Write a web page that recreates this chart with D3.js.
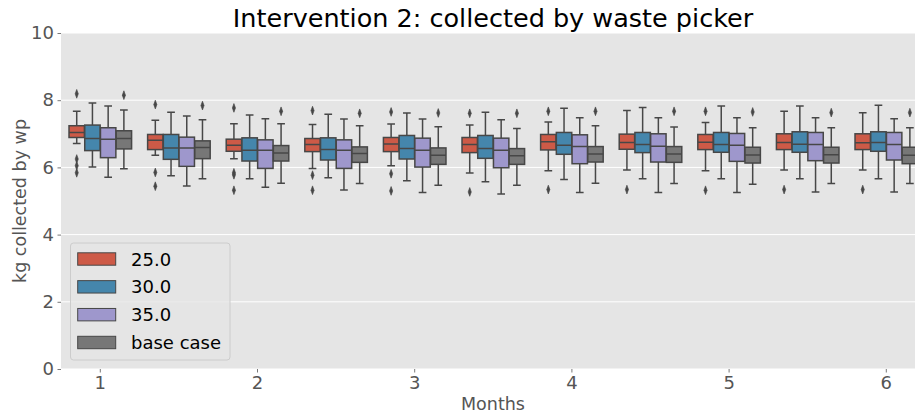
<!DOCTYPE html>
<html>
<head>
<meta charset="utf-8">
<script src="https://cdn.jsdelivr.net/npm/d3@7"></script>
<style>
  body { margin: 0; background: #fff; }
  svg { display: block; font-family: "DejaVu Sans", sans-serif; }
</style>
</head>
<body>
<svg id="chart" width="915" height="416"></svg>
<script>
// ---------- data ----------
const months = ["1","1.5","2","2.5","3","3.5","4","4.5","5","5.5","6"];
const monthTicks = ["1","2","3","4","5","6"];
const hues = ["25.0","30.0","35.0","base case"];
const yTicks = [0,2,4,6,8,10];

// each entry: [lower whisker, Q1, median, Q3, upper whisker]
const stats25 = [
  [6.71,6.89,7.04,7.24,7.67],[6.36,6.53,6.81,6.98,7.40],[6.26,6.48,6.66,6.84,7.30],
  [5.97,6.47,6.68,6.86,7.28],[6.05,6.47,6.70,6.89,7.29],[5.83,6.44,6.68,6.89,7.26],
  [5.90,6.52,6.76,6.98,7.35],[5.92,6.54,6.74,6.99,7.69],[5.90,6.53,6.75,6.98,7.34],
  [5.92,6.53,6.74,7.00,7.67],[5.92,6.53,6.73,7.00,7.63]
];
const stats30 = [
  [6.01,6.50,6.86,7.26,7.92],[5.75,6.24,6.58,6.98,7.64],[5.66,6.19,6.51,6.88,7.56],
  [5.69,6.22,6.53,6.88,7.58],[5.60,6.25,6.56,6.95,7.62],[5.57,6.27,6.56,6.95,7.64],
  [5.64,6.39,6.66,7.04,7.76],[5.66,6.44,6.68,7.04,7.78],[5.66,6.45,6.68,7.04,7.83],
  [5.66,6.45,6.69,7.06,7.83],[5.66,6.48,6.74,7.06,7.85]
];
const stats35 = [
  [5.71,6.29,6.84,7.18,7.83],[5.45,6.03,6.58,6.90,7.53],[5.41,5.97,6.51,6.82,7.45],
  [5.33,5.97,6.51,6.82,7.44],[5.25,6.01,6.51,6.87,7.44],[5.21,5.99,6.51,6.87,7.42],
  [5.25,6.11,6.62,6.97,7.48],[5.25,6.16,6.63,7.00,7.48],[5.25,6.18,6.66,7.01,7.48],
  [5.27,6.20,6.68,7.04,7.48],[5.27,6.22,6.68,7.04,7.45]
];
const statsBase = [
  [5.96,6.55,6.86,7.09,7.71],[5.66,6.26,6.59,6.79,7.42],[5.53,6.19,6.43,6.65,7.30],
  [5.52,6.15,6.41,6.61,7.24],[5.47,6.09,6.36,6.58,7.21],[5.47,6.09,6.35,6.56,7.16],
  [5.53,6.16,6.40,6.62,7.24],[5.52,6.15,6.40,6.62,7.20],[5.50,6.13,6.37,6.60,7.18],
  [5.52,6.13,6.38,6.60,7.18],[5.52,6.11,6.36,6.60,7.18]
];
const outliers25 = [
  [8.19,6.25,6.05,5.84],[7.87,5.85,5.44],[7.77,5.84,5.78,5.32],[7.69,5.77,5.32],
  [7.65,5.81,5.30],[7.61,5.27],[7.67,5.34],[5.34],[7.67,5.32],[5.34],[5.34]
];
const outliers30 = [[],[],[],[],[],[],[],[],[],[],[]];
const outliers35 = [[],[],[],[],[],[],[],[],[],[],[]];
const outliersBase = [
  [8.15],[7.84],[7.67],[7.61],[7.62],[7.61],[7.67],[7.67],[7.65],[7.63],[7.63]
];

const colors = ["#CD5A47","#4586AC","#9E97CC","#777777"];
const edge = "#474747";

// ---------- build ----------
const allStats = [stats25, stats30, stats35, statsBase];
const allOut = [outliers25, outliers30, outliers35, outliersBase];
const boxes = [];
const fliers = [];
hues.forEach((h, hi) => {
  months.forEach((m, mi) => {
    const s = allStats[hi][mi];
    boxes.push({month: m, hue: h, hi, lo: s[0], q1: s[1], med: s[2], q3: s[3], hiW: s[4]});
    allOut[hi][mi].forEach(v => fliers.push({month: m, hue: h, v}));
  });
});

const svg = d3.select("#chart");
const mLeft = 61, mTop = 33, mBottom = 369;
const band = 78.6;
const mRight = mLeft + band * months.length;

const x = d3.scaleBand().domain(months).range([mLeft, mRight]).paddingInner(0).paddingOuter(0);
const xh = d3.scaleBand().domain(hues).range([x.bandwidth() * 0.1, x.bandwidth() * 0.9]);
const y = d3.scaleLinear().domain([0, 10]).range([mBottom, mTop]);

svg.append("defs").append("clipPath").attr("id", "clip")
  .append("rect").attr("x", mLeft).attr("y", mTop).attr("width", mRight - mLeft).attr("height", mBottom - mTop);

// background
svg.append("rect").attr("x", mLeft).attr("y", mTop).attr("width", mRight - mLeft).attr("height", mBottom - mTop)
  .attr("fill", "#E5E5E5");

// grid
svg.append("g").selectAll("line").data(yTicks).join("line")
  .attr("x1", mLeft).attr("x2", mRight)
  .attr("y1", d => y(d)).attr("y2", d => y(d))
  .attr("stroke", "#fff").attr("stroke-width", 1);

const plot = svg.append("g").attr("clip-path", "url(#clip)");
const bw = xh.bandwidth() * 0.98;
const cx = d => x(d.month) + xh(d.hue) + xh.bandwidth() / 2;

const g = plot.selectAll("g.box").data(boxes).join("g").attr("class", "box");
// whiskers
g.append("line").attr("x1", cx).attr("x2", cx).attr("y1", d => y(d.q3)).attr("y2", d => y(d.hiW))
  .attr("stroke", edge).attr("stroke-width", 1.5);
g.append("line").attr("x1", cx).attr("x2", cx).attr("y1", d => y(d.q1)).attr("y2", d => y(d.lo))
  .attr("stroke", edge).attr("stroke-width", 1.5);
// caps
g.append("line").attr("x1", d => cx(d) - bw / 4).attr("x2", d => cx(d) + bw / 4)
  .attr("y1", d => y(d.hiW)).attr("y2", d => y(d.hiW)).attr("stroke", edge).attr("stroke-width", 1.5);
g.append("line").attr("x1", d => cx(d) - bw / 4).attr("x2", d => cx(d) + bw / 4)
  .attr("y1", d => y(d.lo)).attr("y2", d => y(d.lo)).attr("stroke", edge).attr("stroke-width", 1.5);
// box
g.append("rect").attr("x", d => cx(d) - bw / 2).attr("width", bw)
  .attr("y", d => y(d.q3)).attr("height", d => y(d.q1) - y(d.q3))
  .attr("fill", d => colors[d.hi]).attr("stroke", edge).attr("stroke-width", 1.5);
// median
g.append("line").attr("x1", d => cx(d) - bw / 2).attr("x2", d => cx(d) + bw / 2)
  .attr("y1", d => y(d.med)).attr("y2", d => y(d.med)).attr("stroke", edge).attr("stroke-width", 1.5);

// fliers (thin diamonds)
plot.selectAll("path.flier").data(fliers).join("path").attr("class", "flier")
  .attr("transform", d => `translate(${cx(d)},${y(d.v)}) scale(0.62,1)`)
  .attr("d", d3.symbol().type(d3.symbolDiamond).size(22))
  .attr("fill", edge).attr("stroke", edge).attr("stroke-width", 0.8);

// axes
const yAxis = svg.append("g").attr("transform", `translate(${mLeft},0)`)
  .call(d3.axisLeft(y).tickValues(yTicks).tickSize(3.5).tickPadding(3.5));
const xAxis = svg.append("g").attr("transform", `translate(0,${mBottom})`)
  .call(d3.axisBottom(x).tickValues(monthTicks).tickSize(3.5).tickPadding(3.5));
[yAxis, xAxis].forEach(a => {
  a.select(".domain").remove();
  a.selectAll(".tick line").attr("stroke", "#555").attr("stroke-width", 0.8);
  a.selectAll(".tick text").attr("fill", "#555").attr("font-size", "18px")
    .attr("font-family", "DejaVu Sans, sans-serif");
});

// labels
svg.append("text").attr("x", 493).attr("y", 27).attr("text-anchor", "middle")
  .attr("font-size", "25.5px").attr("fill", "#000").text("Intervention 2: collected by waste picker");
svg.append("text").attr("x", 493).attr("y", 410).attr("text-anchor", "middle")
  .attr("font-size", "17.5px").attr("fill", "#555").text("Months");
svg.append("text").attr("transform", `translate(26,${(mTop + mBottom) / 2}) rotate(-90)`)
  .attr("text-anchor", "middle").attr("font-size", "17.5px").attr("fill", "#555").text("kg collected by wp");

// legend
const lg = svg.append("g");
lg.append("rect").attr("x", 70.5).attr("y", 243).attr("width", 159.5).attr("height", 117).attr("rx", 3)
  .attr("fill", "#E5E5E5").attr("fill-opacity", 0.8).attr("stroke", "#CCCCCC").attr("stroke-width", 1);
const ly = d3.scalePoint().domain(hues).range([259, 342.5]);
lg.selectAll("rect.patch").data(hues).join("rect").attr("class", "patch")
  .attr("x", 77.7).attr("width", 38).attr("y", d => ly(d) - 6.2).attr("height", 12.4)
  .attr("fill", (d, i) => colors[i]).attr("stroke", edge).attr("stroke-width", 1);
lg.selectAll("text.lbl").data(hues).join("text").attr("class", "lbl")
  .attr("x", 131).attr("y", d => ly(d) + 6.5)
  .attr("font-size", "18px").attr("fill", "#000").text(d => d);
</script>
</body>
</html>
